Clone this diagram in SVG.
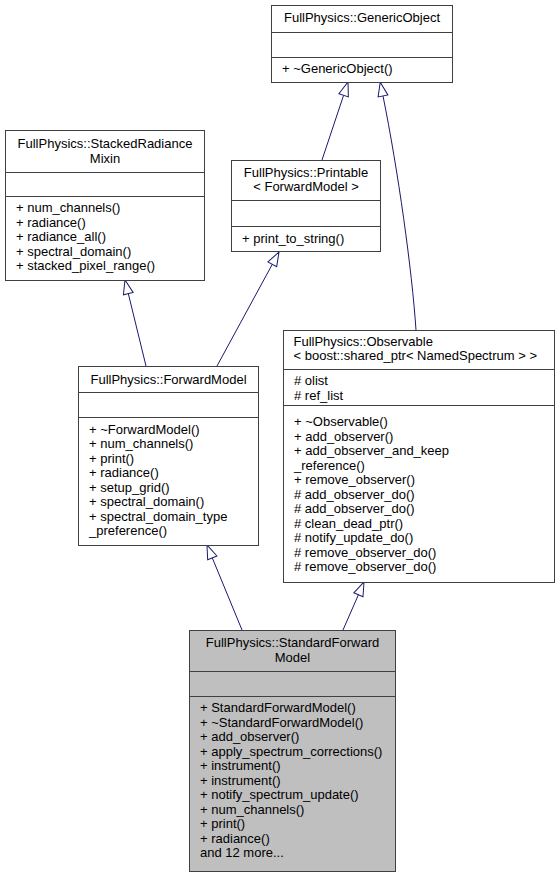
<svg xmlns="http://www.w3.org/2000/svg" width="558" height="875" viewBox="0 0 558 875">
<style>
  text { font-family: "Liberation Sans", Arial, sans-serif; font-size: 13px; fill: #000; }
  .c { text-anchor: middle; }
  .box { fill: #ffffff; stroke: #404040; stroke-width: 1; }
  .gray { fill: #bfbfbf; }
  .div { stroke: #404040; stroke-width: 1; }
  .edge { fill: none; stroke: #191970; stroke-width: 1; marker-end: url(#tri); }
</style>
<defs>
  <marker id="tri" markerUnits="userSpaceOnUse" markerWidth="16" markerHeight="12" refX="0" refY="6" orient="auto" overflow="visible">
    <path d="M0,1 L14,6 L0,11 Z" fill="#ffffff" stroke="#191970" stroke-width="1"/>
  </marker>
</defs>
<rect width="558" height="875" fill="#ffffff"/>

<g id="connectors">
  <path class="edge" d="M322,160 L343.6,95.3"/>
  <path class="edge" d="M416,330 C412,270 398,170 383,96"/>
  <path class="edge" d="M146,366 L128.3,293.6"/>
  <path class="edge" d="M217,366 L272.3,264.3"/>
  <path class="edge" d="M242,630 L212.3,557.9"/>
  <path class="edge" d="M343,630 L358.4,594.8"/>
</g>

<g id="GenericObject">
  <rect class="box" x="271.5" y="5.5" width="181" height="77"/>
  <line class="div" x1="271.5" y1="32.5" x2="452.5" y2="32.5"/>
  <line class="div" x1="271.5" y1="57.5" x2="452.5" y2="57.5"/>
  <text class="c" x="362" y="22">FullPhysics::GenericObject</text>
  <text x="282" y="73">+ ~GenericObject()</text>
</g>

<g id="StackedRadianceMixin">
  <rect class="box" x="5.5" y="130.5" width="199" height="150"/>
  <line class="div" x1="5.5" y1="172.5" x2="204.5" y2="172.5"/>
  <line class="div" x1="5.5" y1="196.5" x2="204.5" y2="196.5"/>
  <text class="c" x="105" y="148">FullPhysics::StackedRadiance</text>
  <text class="c" x="105" y="162.5">Mixin</text>
  <text x="16" y="212">+ num_channels()</text>
  <text x="16" y="226.5">+ radiance()</text>
  <text x="16" y="241">+ radiance_all()</text>
  <text x="16" y="255.5">+ spectral_domain()</text>
  <text x="16" y="270">+ stacked_pixel_range()</text>
</g>

<g id="Printable">
  <rect class="box" x="231.5" y="160.5" width="149" height="91"/>
  <line class="div" x1="231.5" y1="200.5" x2="380.5" y2="200.5"/>
  <line class="div" x1="231.5" y1="226.5" x2="380.5" y2="226.5"/>
  <text class="c" x="306" y="177">FullPhysics::Printable</text>
  <text class="c" x="306" y="191">&lt; ForwardModel &gt;</text>
  <text x="242" y="242.5">+ print_to_string()</text>
</g>

<g id="ForwardModel">
  <rect class="box" x="78.5" y="366.5" width="180" height="179"/>
  <line class="div" x1="78.5" y1="392.5" x2="258.5" y2="392.5"/>
  <line class="div" x1="78.5" y1="417.5" x2="258.5" y2="417.5"/>
  <text class="c" x="168.5" y="383.5">FullPhysics::ForwardModel</text>
  <text x="89" y="433.5">+ ~ForwardModel()</text>
  <text x="89" y="448">+ num_channels()</text>
  <text x="89" y="462.5">+ print()</text>
  <text x="89" y="477">+ radiance()</text>
  <text x="89" y="491.5">+ setup_grid()</text>
  <text x="89" y="506">+ spectral_domain()</text>
  <text x="89" y="520.5">+ spectral_domain_type</text>
  <text x="89" y="535">_preference()</text>
</g>

<g id="Observable">
  <rect class="box" x="283.5" y="330.5" width="271" height="252"/>
  <line class="div" x1="283.5" y1="369.5" x2="554.5" y2="369.5"/>
  <line class="div" x1="283.5" y1="405.5" x2="554.5" y2="405.5"/>
  <text x="293.5" y="346">FullPhysics::Observable</text>
  <text x="293.5" y="360">&lt; boost::shared_ptr&lt; NamedSpectrum &gt; &gt;</text>
  <text x="294" y="385">#&#160;olist</text>
  <text x="294" y="399.5">#&#160;ref_list</text>
  <text x="294" y="426">+ ~Observable()</text>
  <text x="294" y="440.5">+ add_observer()</text>
  <text x="294" y="455">+ add_observer_and_keep</text>
  <text x="294" y="469.5">_reference()</text>
  <text x="294" y="484">+ remove_observer()</text>
  <text x="294" y="498.5">#&#160;add_observer_do()</text>
  <text x="294" y="513">#&#160;add_observer_do()</text>
  <text x="294" y="527.5">#&#160;clean_dead_ptr()</text>
  <text x="294" y="542">#&#160;notify_update_do()</text>
  <text x="294" y="556.5">#&#160;remove_observer_do()</text>
  <text x="294" y="571">#&#160;remove_observer_do()</text>
</g>

<g id="StandardForwardModel">
  <rect class="box gray" x="189.5" y="630.5" width="206" height="241"/>
  <line class="div" x1="189.5" y1="671.5" x2="395.5" y2="671.5"/>
  <line class="div" x1="189.5" y1="696.5" x2="395.5" y2="696.5"/>
  <text class="c" x="292.5" y="647">FullPhysics::StandardForward</text>
  <text class="c" x="292.5" y="661.5">Model</text>
  <text x="200" y="712">+ StandardForwardModel()</text>
  <text x="200" y="726.5">+ ~StandardForwardModel()</text>
  <text x="200" y="741">+ add_observer()</text>
  <text x="200" y="755.5">+ apply_spectrum_corrections()</text>
  <text x="200" y="770">+ instrument()</text>
  <text x="200" y="784.5">+ instrument()</text>
  <text x="200" y="799">+ notify_spectrum_update()</text>
  <text x="200" y="813.5">+ num_channels()</text>
  <text x="200" y="828">+ print()</text>
  <text x="200" y="842.5">+ radiance()</text>
  <text x="200" y="857">and 12 more...</text>
</g>
</svg>
